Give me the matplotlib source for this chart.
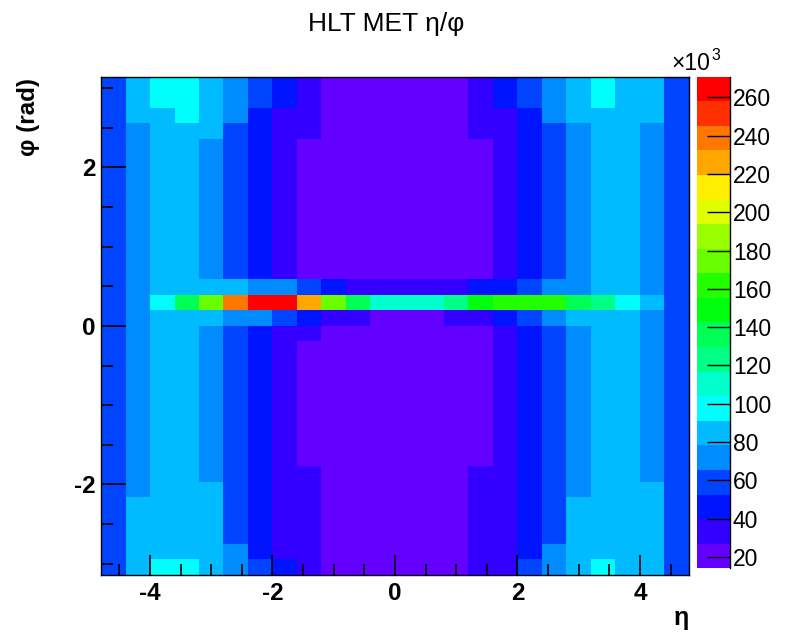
import colorsys
import numpy as np
import matplotlib
matplotlib.use("Agg")
import matplotlib.pyplot as plt
from matplotlib.colors import ListedColormap, BoundaryNorm

plt.rcParams['font.family'] = ['Liberation Sans', 'DejaVu Sans']

# ---------------- data (bin contents in units of 10^3) ----------------
title = "HLT MET η/φ"
x_label = "η"
y_label = "φ (rad)"
eta_min, eta_max, n_eta = -4.8, 4.8, 24
phi_min, phi_max, n_phi = -np.pi, np.pi, 32
x_ticks = [-4, -2, 0, 2, 4]
y_ticks = [-2, 0, 2]
z_ticks = [20, 40, 60, 80, 100, 120, 140, 160, 180, 200, 220, 240, 260]
z_min, z_max = 14.0, 270.8   # colour-scale range read from the palette

# rows listed from the top (phi = +pi) to the bottom (phi = -pi), eta from -4.8 to 4.8
row_top_a = [59, 85, 97, 97, 85, 72, 59, 46, 33, 20, 20, 20, 20, 20, 20, 33, 46, 59, 72, 85, 97, 85, 85, 59]
row_top_b = [59, 85, 85, 97, 85, 72, 46, 33, 33, 20, 20, 20, 20, 20, 20, 33, 33, 46, 72, 85, 85, 85, 85, 59]
row_top_c = [59, 72, 85, 85, 85, 59, 46, 33, 33, 20, 20, 20, 20, 20, 20, 33, 33, 46, 59, 72, 85, 85, 72, 59]
row_mid   = [59, 72, 85, 85, 72, 59, 46, 33, 20, 20, 20, 20, 20, 20, 20, 20, 33, 46, 59, 72, 85, 85, 72, 59]
row_above = [59, 72, 85, 85, 85, 85, 72, 72, 59, 46, 33, 33, 33, 33, 33, 46, 46, 59, 72, 72, 85, 85, 72, 59]
row_peak  = [59, 72, 97, 136, 175, 239, 271, 263, 226, 175, 136, 110, 110, 110, 123, 149, 162, 162, 162, 136, 123, 97, 85, 59]
row_below = [59, 72, 85, 85, 85, 72, 72, 59, 46, 33, 33, 20, 20, 20, 33, 33, 46, 59, 72, 85, 85, 85, 72, 59]
row_zero  = [59, 72, 85, 85, 72, 59, 46, 33, 33, 20, 20, 20, 20, 20, 20, 20, 33, 46, 59, 72, 85, 85, 72, 59]
row_bot_a = [59, 72, 85, 85, 72, 59, 46, 33, 33, 20, 20, 20, 20, 20, 20, 33, 33, 46, 59, 72, 85, 85, 72, 59]
row_bot_b = [59, 72, 85, 85, 85, 59, 46, 33, 33, 20, 20, 20, 20, 20, 20, 33, 33, 46, 59, 72, 85, 85, 85, 59]
row_bot_c = [59, 85, 85, 85, 85, 59, 46, 33, 33, 20, 20, 20, 20, 20, 20, 33, 33, 46, 59, 85, 85, 85, 85, 59]
row_bot_d = [59, 85, 85, 85, 85, 72, 46, 33, 33, 20, 20, 20, 20, 20, 20, 33, 33, 46, 72, 85, 85, 85, 85, 59]
row_bot_e = [59, 85, 97, 97, 85, 72, 59, 46, 33, 20, 20, 20, 20, 20, 20, 33, 33, 59, 72, 85, 97, 85, 85, 59]

rows_from_top = ([row_top_a, row_top_a, row_top_b, row_top_c]
                 + [row_mid] * 9
                 + [row_above, row_peak, row_below, row_zero]
                 + [row_mid] * 8
                 + [row_bot_a, row_bot_b, row_bot_c, row_bot_c, row_bot_c, row_bot_d, row_bot_e])

# ---------------- style ----------------
W, H = 785, 632
fig = plt.figure(figsize=(W / 100, H / 100), dpi=100)
fig.patch.set_facecolor('white')

def px_rect(x0, y0, x1, y1):
    return [x0 / W, 1 - y1 / H, (x1 - x0) / W, (y1 - y0) / H]

# ROOT "pretty" palette (HLS, violet -> red), 20 contour levels
n_lev = 20
cols = []
for k in range(n_lev):
    idx = int((k + 0.99) * 50 / n_lev)
    hue = max(280 - (idx + 1) * 5.6, 0.0)
    cols.append(colorsys.hls_to_rgb(hue / 360.0, 0.5, 1.0))
cmap = ListedColormap(cols)
levels = np.linspace(z_min, z_max, n_lev + 1)
norm = BoundaryNorm(levels, cmap.N)

Z = np.flipud(np.array(rows_from_top, dtype=float))
eta_edges = np.linspace(eta_min, eta_max, n_eta + 1)
phi_edges = np.linspace(phi_min, phi_max, n_phi + 1)

ax = fig.add_axes(px_rect(101, 76.7, 689, 575))
mesh = ax.pcolormesh(eta_edges, phi_edges, Z, cmap=cmap, norm=norm,
                     edgecolors='none', linewidth=0, antialiased=False)
ax.set_xlim(eta_min, eta_max)
ax.set_ylim(phi_min, phi_max)

ax.set_xticks(x_ticks)
ax.set_yticks(y_ticks)
ax.set_xticks(np.arange(-4.5, 4.81, 0.5), minor=True)
ax.set_yticks(np.arange(-3.0, 3.01, 0.5), minor=True)
ax.set_xticklabels([str(v) for v in x_ticks], fontweight='bold', fontsize=17.5)
ax.set_yticklabels([str(v) for v in y_ticks], fontweight='bold', fontsize=17.5)
ax.tick_params(axis='x', which='major', direction='in', length=14.4, width=1.2,
               top=False, bottom=True, pad=5)
ax.tick_params(axis='x', which='minor', direction='in', length=7.7, width=1.2,
               top=False, bottom=True)
ax.tick_params(axis='y', which='major', direction='in', length=17.8, width=1.2,
               left=True, right=False, pad=4)
ax.tick_params(axis='y', which='minor', direction='in', length=8.9, width=1.2,
               left=True, right=False)
for s in ax.spines.values():
    s.set_linewidth(1.0)
    s.set_color('black')

# colour bar
cax = fig.add_axes(px_rect(697, 76.7, 730, 568.3))
cb = fig.colorbar(mesh, cax=cax, ticks=z_ticks)
cb.outline.set_visible(False)
cax.set_yticklabels([str(v) for v in z_ticks], fontsize=16.5)
cax.tick_params(axis='y', which='major', direction='in', length=16.6, width=1.0,
                right=True, left=False, labelright=True, labelleft=False, pad=2)
cax.tick_params(axis='y', which='minor', length=0)
cax.plot([1, 1], [0, 1], transform=cax.transAxes, color='black', lw=1.0, clip_on=False)

# exponent label of the palette axis
fig.text(671 / W, 1 - 70 / H, "×10", fontsize=16.5, ha='left', va='baseline')
fig.text(711 / W, 1 - 60 / H, "3", fontsize=11.5, ha='left', va='baseline')

# titles
fig.text(386 / W, 1 - 24 / H, title, fontsize=19, ha='center', va='center')
fig.text(689 / W, 1 - 606 / H, x_label, fontsize=18, fontweight='bold', ha='right', va='top')
fig.text(29 / W, 1 - 78 / H, y_label, fontsize=17.5, fontweight='bold', rotation=90,
         ha='center', va='top')

fig.savefig("out.png", dpi=100, facecolor='white')
